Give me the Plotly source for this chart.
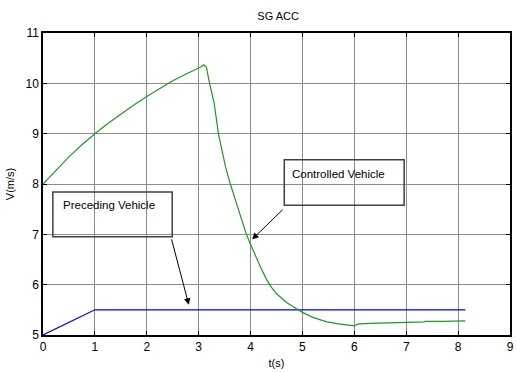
import plotly.graph_objects as go

# Controlled vehicle speed (m/s)
t_ctrl = [0.0, 0.25, 0.5, 0.75, 1.0, 1.25, 1.5, 1.75, 2.0, 2.25, 2.5, 2.75, 3.0, 3.05, 3.1, 3.15,
          3.2, 3.25, 3.3, 3.38, 3.45, 3.52, 3.61, 3.7, 3.8, 3.92, 4.0, 4.1, 4.2, 4.3, 4.4, 4.5,
          4.6, 4.7, 4.84, 5.0, 5.2, 5.47, 5.7, 5.9, 6.0, 6.05, 6.1, 6.3, 6.5, 6.7, 7.0, 7.35,
          7.36, 7.7, 8.14]
v_ctrl = [8.0, 8.28, 8.54, 8.78, 9.0, 9.2, 9.39, 9.57, 9.74, 9.9, 10.05, 10.18, 10.3, 10.33, 10.37, 10.32,
          10.05, 9.85, 9.6, 9.0, 8.65, 8.33, 8.0, 7.7, 7.38, 7.0, 6.8, 6.55, 6.33, 6.12, 5.95, 5.82,
          5.72, 5.64, 5.55, 5.45, 5.35, 5.26, 5.22, 5.19, 5.18, 5.21, 5.22, 5.23, 5.24, 5.25, 5.25, 5.26,
          5.27, 5.27, 5.28]

# Preceding vehicle speed (m/s)
t_prec = [0.0, 0.2, 0.4, 0.6, 0.75, 0.9, 1.0, 2.0, 4.0, 6.0, 8.14]
v_prec = [5.0, 5.1, 5.2, 5.3, 5.37, 5.45, 5.5, 5.5, 5.5, 5.5, 5.5]

x_ticks = [0, 1, 2, 3, 4, 5, 6, 7, 8, 9]
y_ticks = [5, 6, 7, 8, 9, 10, 11]

font_family = "Liberation Sans, Arial, sans-serif"

fig = go.Figure()
fig.add_trace(go.Scatter(x=t_prec, y=v_prec, mode="lines",
                         line=dict(color="#0000ff", width=1.2), showlegend=False))
fig.add_trace(go.Scatter(x=t_ctrl, y=v_ctrl, mode="lines",
                         line=dict(color="#1c9c1c", width=1.2), showlegend=False))

axis_common = dict(
    showgrid=True, gridcolor="#8c8c8c", gridwidth=1,
    showline=True, linecolor="black", linewidth=1.5, mirror="ticks",
    ticks="inside", ticklen=4, tickcolor="black", tickwidth=1,
    zeroline=False, tickfont=dict(family=font_family, size=12, color="black"),
)

fig.update_layout(
    width=516, height=372,
    margin=dict(l=43, r=2, t=33, b=37),
    paper_bgcolor="white", plot_bgcolor="white",
    title=dict(text="SG ACC", x=0.539, xanchor="center", y=0.957, yanchor="middle",
               font=dict(family=font_family, size=11, color="black")),
    xaxis=dict(range=[0, 9], tickvals=x_ticks, **axis_common,
               title=dict(text="t(s)", standoff=6,
                          font=dict(family=font_family, size=11, color="black"))),
    yaxis=dict(range=[5, 11], tickvals=y_ticks, **axis_common,
               title=dict(text="V(m/s)", standoff=9,
                          font=dict(family=font_family, size=11, color="black"))),
    font=dict(family=font_family),
)

# Text boxes
box_line = dict(color="#404040", width=1.5)
fig.add_shape(type="rect", xref="x", yref="y", x0=0.19, x1=2.49, y0=6.95, y1=7.84, line=box_line)
fig.add_shape(type="rect", xref="x", yref="y", x0=4.65, x1=6.96, y0=7.58, y1=8.48, line=box_line)

fig.add_annotation(x=0.35, y=7.58, xref="x", yref="y", text="Preceding Vehicle", showarrow=False,
                   xanchor="left", yanchor="middle",
                   font=dict(family=font_family, size=11.5, color="black"))
fig.add_annotation(x=4.76, y=8.2, xref="x", yref="y", text="Controlled Vehicle", showarrow=False,
                   xanchor="left", yanchor="middle",
                   font=dict(family=font_family, size=11.5, color="black"))

# Arrows
fig.add_annotation(x=2.81, y=5.6, ax=2.47, ay=6.93, xref="x", yref="y", axref="x", ayref="y",
                   text="", showarrow=True, arrowhead=2, arrowsize=1.3, arrowwidth=1,
                   arrowcolor="black")
fig.add_annotation(x=4.03, y=6.9, ax=4.65, ay=7.52, xref="x", yref="y", axref="x", ayref="y",
                   text="", showarrow=True, arrowhead=2, arrowsize=1.3, arrowwidth=1,
                   arrowcolor="black")

fig.write_html("out.html")
